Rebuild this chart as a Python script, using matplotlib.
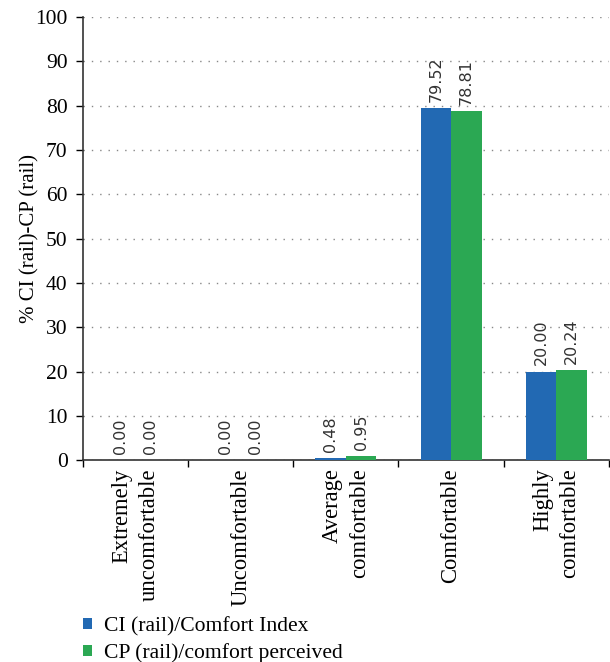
import matplotlib
matplotlib.use("Agg")
import matplotlib.pyplot as plt
import numpy as np
from matplotlib.patches import Patch

categories = ["Extremely\nuncomfortable", "Uncomfortable", "Average\ncomfortable",
              "Comfortable", "Highly\ncomfortable"]
ci_values = [0.00, 0.00, 0.48, 79.52, 20.00]
cp_values = [0.00, 0.00, 0.95, 78.81, 20.24]
series_names = ["CI (rail)/Comfort Index", "CP (rail)/comfort perceived"]
y_ticks = [0, 10, 20, 30, 40, 50, 60, 70, 80, 90, 100]

blue = "#2269b3"
green = "#2ba853"
serif = "Liberation Serif"

fig = plt.figure(figsize=(6.10, 6.62), dpi=100)
ax = fig.add_axes([0.136, 0.305, 0.862, 0.669])

x = np.arange(len(categories))
w = 0.29
b1 = ax.bar(x - w / 2, ci_values, w, color=blue, edgecolor="none", zorder=3)
b2 = ax.bar(x + w / 2, cp_values, w, color=green, edgecolor="none", zorder=3)

for bars, vals in ((b1, ci_values), (b2, cp_values)):
    for rect, v in zip(bars, vals):
        ax.annotate(f"{v:.2f}", (rect.get_x() + rect.get_width() / 2, rect.get_height()),
                    xytext=(0, 4.5), textcoords="offset points", rotation=90,
                    ha="center", va="bottom", fontsize=11.5, color="#333333",
                    family="DejaVu Sans", zorder=4)

ax.set_xlim(-0.5, len(categories) - 0.5)
ax.set_ylim(0, 100)
ax.set_yticks(y_ticks)
ax.set_yticklabels([str(t) for t in y_ticks], family=serif, fontsize=15.5)

ax.set_xticks(np.arange(len(categories) + 1) - 0.5)
ax.set_xticklabels([])
ax.set_xticks(x, minor=True)
ax.set_xticklabels(categories, minor=True, rotation=90, family=serif, fontsize=16.3,
                   ha="center", va="top", linespacing=1.35, multialignment="right")
ax.tick_params(axis="x", which="minor", length=0, pad=6)
ax.tick_params(axis="x", which="major", length=5, width=1, direction="out")
ax.tick_params(axis="y", length=5, width=1, direction="out", pad=6)

ax.yaxis.grid(True, linestyle=(0, (1, 5)), color="#888888", linewidth=1, zorder=0)
ax.set_axisbelow(True)
for s in ("top", "right"):
    ax.spines[s].set_visible(False)
for s in ("left", "bottom"):
    ax.spines[s].set_color("#333333")
    ax.spines[s].set_linewidth(1.2)

ax.set_ylabel("% CI (rail)-CP (rail)", family=serif, fontsize=15)
ax.yaxis.set_label_coords(-0.083, 0.5)

handles = [Patch(facecolor=blue), Patch(facecolor=green)]
leg = fig.legend(handles, series_names, loc="upper left", bbox_to_anchor=(0.136, 0.068),
                 frameon=False, prop={"family": serif, "size": 15.6},
                 handlelength=0.4, handleheight=0.4, handletextpad=0.55, labelspacing=0.3,
                 borderaxespad=0, borderpad=0)

fig.savefig("out.png", dpi=100)
